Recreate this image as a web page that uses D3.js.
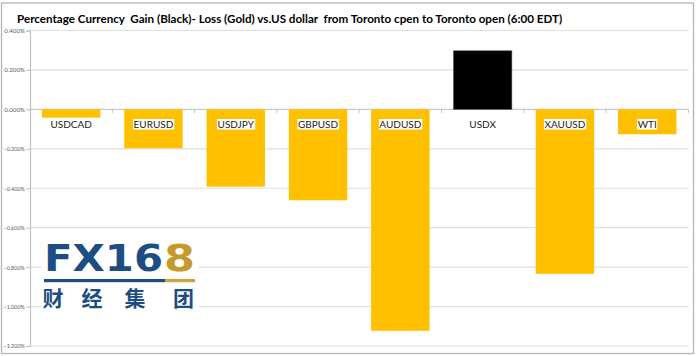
<!DOCTYPE html>
<html><head><meta charset="utf-8">
<script src="https://cdn.jsdelivr.net/npm/d3@7"></script>
<style>html,body{margin:0;padding:0;background:#fff;}svg{display:block;}</style>
</head><body>
<svg id="chart" width="700" height="356"></svg>
<script>
const categories = ["USDCAD","EURUSD","USDJPY","GBPUSD","AUDUSD","USDX","XAUUSD","WTI"];
const values = [-0.042, -0.197, -0.392, -0.461, -1.123, 0.297, -0.834, -0.126];
const yTicks = [0.4, 0.2, 0, -0.2, -0.4, -0.6, -0.8, -1.0, -1.2];
const titleText = "Percentage Currency  Gain (Black)- Loss (Gold) vs.US dollar  from Toronto cpen to Toronto open (6:00 EDT)";

const svg = d3.select("#chart");
const plot = {left: 30, right: 688.4, top: 30.5, bottom: 346};

// outer border
svg.append("rect").attr("x", 1.5).attr("y", 3).attr("width", 692).attr("height", 350.5)
  .attr("fill", "#fff").attr("stroke", "#b4b4b4").attr("stroke-width", 1.3);

const x = d3.scaleBand().domain(categories).range([plot.left, plot.right])
  .paddingInner(0.29).paddingOuter(0.145);
const y = d3.scaleLinear().domain([-1.2, 0.4]).range([plot.bottom, plot.top]);

// gridlines
svg.append("g").selectAll("line").data(yTicks).join("line")
  .attr("x1", plot.left).attr("x2", plot.right)
  .attr("y1", d => y(d)).attr("y2", d => y(d))
  .attr("stroke", d => d === 0 ? "#c8c8c8" : "#dedede").attr("stroke-width", 1.2);

// y axis
const yAxis = d3.axisLeft(y).tickValues(yTicks).tickSize(4)
  .tickFormat(d => d3.format(".3f")(d) + "%");
const yg = svg.append("g").attr("transform", `translate(${plot.left},0)`).call(yAxis);
yg.select(".domain").attr("stroke", "#c0c0c0").attr("stroke-width", 1.2);
yg.selectAll(".tick line").attr("stroke", "#c0c0c0");
yg.selectAll(".tick text").attr("font-family", "Lato, sans-serif").attr("font-size", 6.2)
  .attr("fill", "#595959").attr("x", -5);
// keep labels inside the frame
yg.selectAll(".tick text").each(function() {
  const w = this.getComputedTextLength();
  const maxW = 21.5;
  if (w > maxW) d3.select(this).attr("textLength", maxW).attr("lengthAdjust", "spacingAndGlyphs");
});

// logo watermark
const logo = svg.append("g");
logo.append("rect").attr("x", 42).attr("y", 238).attr("width", 157).attr("height", 74).attr("fill", "#fff");
logo.append("text").attr("x", 44).attr("y", 271).text("FX16")
  .attr("font-family", "DejaVu Sans, sans-serif").attr("font-weight", "bold").attr("font-size", 36.5)
  .attr("fill", "#1d4d82").attr("textLength", 119).attr("lengthAdjust", "spacingAndGlyphs");
logo.append("text").attr("x", 164).attr("y", 271).text("8")
  .attr("font-family", "DejaVu Sans, sans-serif").attr("font-weight", "bold").attr("font-size", 36.5)
  .attr("fill", "#c49a2c").attr("textLength", 31).attr("lengthAdjust", "spacingAndGlyphs");
logo.append("rect").attr("x", 44).attr("y", 279).attr("width", 121).attr("height", 3.2).attr("fill", "#1d4d82");
logo.append("rect").attr("x", 165).attr("y", 279).attr("width", 30).attr("height", 3.2).attr("fill", "#c9a23a");
const chars = ["财","经","集","团"];
const charX = [53, 92, 135, 183.5];
logo.selectAll("text.cn").data(chars).join("text").attr("class", "cn")
  .attr("x", (d, i) => charX[i]).attr("y", 305.5).attr("text-anchor", "middle")
  .attr("font-family", "Noto Sans CJK SC, sans-serif").attr("font-weight", "bold").attr("font-size", 21)
  .attr("fill", "#1d4d82").text(d => d);

// bars
svg.append("g").selectAll("rect").data(values).join("rect")
  .attr("x", (d, i) => x(categories[i]))
  .attr("width", x.bandwidth())
  .attr("y", d => y(Math.max(0, d)))
  .attr("height", d => Math.abs(y(d) - y(0)))
  .attr("fill", d => d >= 0 ? "#000000" : "#FFC000")
  .attr("stroke", d => d >= 0 ? "#555" : "none").attr("stroke-width", 0.6);

// x axis (tick marks at band boundaries)
const bounds = d3.range(categories.length + 1).map(i => plot.left + i * x.step());
svg.append("g").selectAll("line").data(bounds.slice(1)).join("line")
  .attr("x1", d => d).attr("x2", d => d).attr("y1", y(0)).attr("y2", y(0) + 3.5)
  .attr("stroke", "#c0c0c0").attr("stroke-width", 1);

// category labels with white background
const lg = svg.append("g");
categories.forEach((c, i) => {
  const cx = x(c) + x.bandwidth() / 2;
  const t = lg.append("text").attr("x", cx).attr("y", 127.5).attr("text-anchor", "middle")
    .attr("font-family", "Lato, sans-serif").attr("font-size", 10).attr("fill", "#222").text(c);
  const bb = t.node().getBBox();
  lg.insert("rect", "text").attr("x", bb.x - 0.5).attr("y", 119).attr("width", bb.width + 1).attr("height", 10.5)
    .attr("fill", "#fff");
});

// title
const title = svg.append("text").attr("x", 17).attr("y", 22.5)
  .attr("font-family", "Lato, sans-serif").attr("font-weight", "bold").attr("font-size", 13)
  .attr("fill", "#000").style("white-space", "pre").attr("xml:space", "preserve").text(titleText);
const tw = title.node().getComputedTextLength();
title.attr("font-size", 13 * 546 / tw);
</script>
</body></html>
